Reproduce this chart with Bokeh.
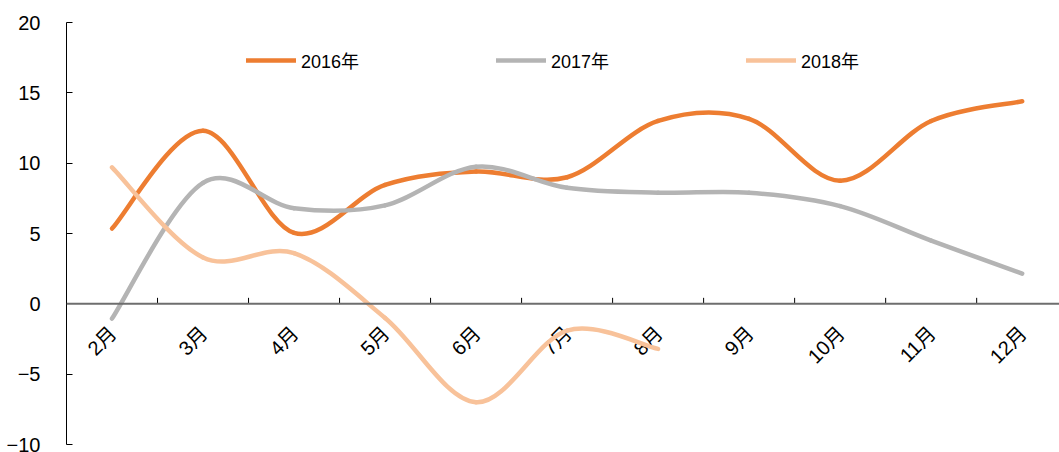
import math
from bokeh.plotting import figure
from bokeh.models import Range1d, FixedTicker, Span, ColumnDataSource, Legend, LegendItem
from bokeh.core.properties import value
from bokeh.embed import file_html
from bokeh.resources import INLINE

# ---- data ----
months = ["2月", "3月", "4月", "5月", "6月", "7月", "8月", "9月", "10月", "11月", "12月"]
y2016 = [5.35, 12.3, 5.05, 8.45, 9.4, 9.0, 13.0, 13.15, 8.75, 13.0, 14.4]
y2017 = [-1.05, 8.6, 6.8, 7.0, 9.75, 8.25, 7.9, 7.9, 6.95, 4.5, 2.15]
y2018 = [9.7, 3.3, 3.6, -1.0, -7.0, -1.9, -3.2]
series_names = ["2016年", "2017年", "2018年"]
series_colors = ["#ED7D31", "#B4B4B4", "#F8C29A"]
y_ticks = [-10, -5, 0, 5, 10, 15, 20]

FONT = "Liberation Sans, Noto Sans CJK SC"

p = figure(width=1059, height=452, output_backend="svg", toolbar_location=None,
           x_range=Range1d(-0.5, 10.41), y_range=Range1d(-10, 20),
           x_axis_type=None, min_border_left=66, min_border_right=0,
           min_border_top=22, min_border_bottom=8)
p.outline_line_color = None
p.xgrid.visible = False
p.ygrid.visible = False
p.background_fill_color = "white"
p.border_fill_color = "white"

yax = p.yaxis[0]
yax.ticker = FixedTicker(ticks=y_ticks)
yax.axis_line_color = "#000000"
yax.axis_line_width = 1
yax.major_tick_in = 6
yax.major_tick_out = 0
yax.major_tick_line_color = "#000000"
yax.minor_tick_line_color = None
yax.major_label_standoff = 26
yax.major_label_text_font = FONT
yax.major_label_text_font_size = "20px"
yax.major_label_text_color = "#000000"

# zero line (category axis crossing at 0)
p.add_layout(Span(location=0, dimension="width", line_color="#6E6E6E", line_width=2))

# category boundary ticks
n = len(months)
bx = [i + 0.5 for i in range(n - 1)]
p.ray(x=bx, y=[0] * len(bx), length=6, length_units="screen", angle=math.pi / 2,
      line_color="#000000", line_width=1)

# rotated month labels
p.text(x=list(range(n)), y=[0] * n, text=months, angle=math.pi / 4,
       text_align="right", text_baseline="middle", y_offset=26, x_offset=1,
       text_font=value(FONT), text_font_size="20px", text_color="#000000")


def bezier_source(ys):
    m = len(ys)
    xs = list(range(m))
    d = dict(x0=[], y0=[], x1=[], y1=[], cx0=[], cy0=[], cx1=[], cy1=[])
    for i in range(m - 1):
        im1 = max(i - 1, 0)
        ip2 = min(i + 2, m - 1)
        d["x0"].append(xs[i]); d["y0"].append(ys[i])
        d["x1"].append(xs[i + 1]); d["y1"].append(ys[i + 1])
        d["cx0"].append(xs[i] + (xs[i + 1] - xs[im1]) / 6)
        d["cy0"].append(ys[i] + (ys[i + 1] - ys[im1]) / 6)
        d["cx1"].append(xs[i + 1] - (xs[ip2] - xs[i]) / 6)
        d["cy1"].append(ys[i + 1] - (ys[ip2] - ys[i]) / 6)
    return ColumnDataSource(d)


items = []
for name, ys, col in zip(series_names, [y2016, y2017, y2018], series_colors):
    r = p.bezier(x0="x0", y0="y0", x1="x1", y1="y1", cx0="cx0", cy0="cy0",
                 cx1="cx1", cy1="cy1", source=bezier_source(ys),
                 line_color=col, line_width=4.5, line_cap="round")
    items.append(LegendItem(label=name, renderers=[r]))

legend = Legend(items=items, orientation="horizontal", location=(180, 371),
                glyph_width=50, glyph_height=20, label_standoff=5,
                label_width=195, spacing=0, padding=0, margin=0,
                border_line_color=None, background_fill_alpha=0,
                label_text_font=FONT, label_text_font_size="18px",
                label_text_color="#000000")
p.add_layout(legend)

open("out.html", "w").write(file_html(p, INLINE))
